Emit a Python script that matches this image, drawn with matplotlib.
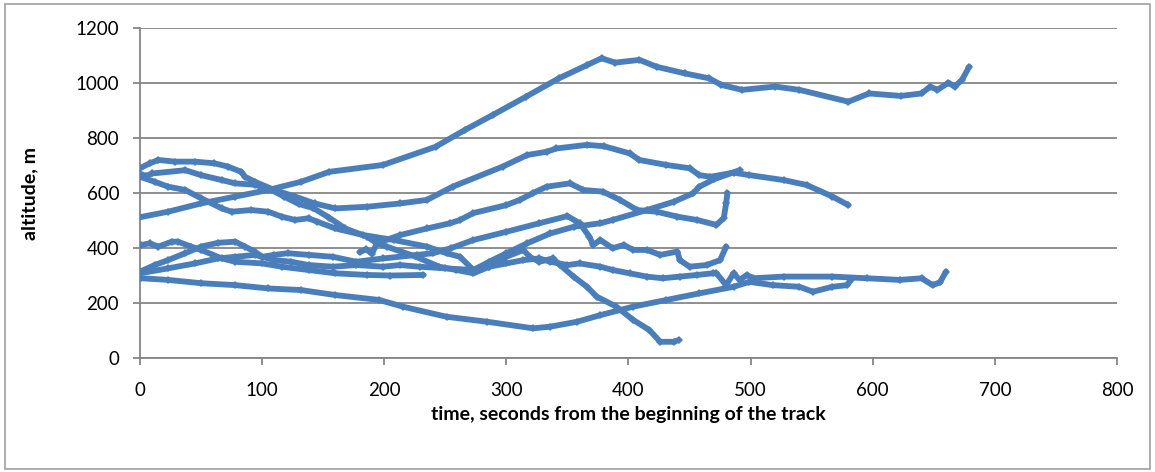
import matplotlib
matplotlib.use("Agg")
import matplotlib.pyplot as plt

# altitude tracks, values (time s, altitude m)
track_a_t = [0, 23, 50, 78, 105, 132, 155, 199, 242, 266, 289, 316, 343, 366, 378, 389, 409, 423,
             446, 466, 476, 493, 520, 540, 580, 597, 623, 640, 647, 653, 662, 667, 673, 679]
track_a_alt = [512, 532, 562, 587, 611, 641, 677, 702, 768, 829, 884, 950, 1017, 1065, 1090, 1074, 1084, 1059,
               1035, 1017, 993, 975, 987, 975, 932, 962, 953, 962, 987, 975, 1001, 987, 1011, 1059]

track_c_t = [0, 8, 15, 29, 45, 61, 72, 83, 86, 94, 110, 127, 143, 160, 186, 213, 235, 256, 297, 317,
             333, 341, 366, 380, 401, 409, 431, 450, 458, 467, 486, 499, 527, 546, 567, 580]
track_c_alt = [690, 708, 720, 714, 714, 708, 696, 677, 659, 641, 611, 587, 562, 544, 550, 562, 575, 623, 696, 738,
               750, 762, 775, 770, 744, 720, 702, 690, 665, 659, 674, 665, 647, 629, 587, 556]

track_i_t = [0, 5, 10, 37, 50, 67, 78, 94, 108, 118, 130, 142, 155, 168, 186, 194, 202, 225, 245, 259,
             273, 286, 300, 314, 319, 327, 338, 344, 355, 366, 374, 390, 404, 417, 426, 437, 441]
track_i_alt = [670, 662, 671, 683, 665, 647, 635, 630, 610, 587, 560, 545, 510, 471, 441, 417, 405, 370, 332, 320,
               308, 332, 368, 393, 368, 350, 362, 338, 296, 259, 223, 187, 138, 102, 59, 59, 65]

track_b_t = [0, 12, 23, 37, 50, 67, 75, 91, 105, 116, 127, 138, 145, 160, 183, 208, 235, 251, 262, 273,
             286, 300, 314, 327, 336, 350, 360, 377, 387, 401, 415, 428, 442, 456, 469, 472, 480, 486,
             491, 497, 502, 527, 567, 595, 622, 640, 649, 655, 660]
track_b_alt = [659, 641, 623, 611, 581, 544, 532, 538, 532, 514, 502, 508, 496, 471, 447, 429, 405, 381, 368, 320,
               332, 344, 356, 362, 350, 338, 344, 332, 320, 308, 296, 290, 296, 302, 308, 308, 265, 308,
               284, 302, 290, 296, 296, 290, 284, 290, 265, 275, 314]

track_h_t = [0, 12, 23, 37, 50, 64, 78, 86, 94, 100, 110, 121, 138, 158, 177, 199, 227, 240, 255, 273,
             300, 327, 350, 360, 368, 371, 377, 387, 396, 404, 415, 426, 440, 442, 450, 464, 475, 480]
track_h_alt = [314, 338, 356, 381, 405, 419, 423, 405, 387, 368, 375, 381, 375, 368, 350, 362, 375, 381, 400, 429,
               459, 490, 516, 490, 441, 411, 429, 399, 411, 393, 393, 375, 387, 356, 332, 338, 356, 405]

track_d_t = [0, 23, 45, 64, 78, 94, 110, 124, 138, 158, 177, 199, 213, 229, 250, 273, 286, 300, 317, 336,
             355, 377, 387, 415, 437, 453, 458, 470, 491]
track_d_alt = [308, 326, 344, 362, 368, 375, 356, 350, 338, 332, 338, 332, 338, 332, 326, 320, 350, 381, 417, 453,
               477, 490, 502, 538, 568, 599, 623, 650, 683]

track_l_t = [1, 8, 15, 26, 31, 42, 50, 67, 78, 100, 116, 138, 160, 186, 205, 232]
track_l_alt = [411, 417, 405, 423, 423, 405, 393, 362, 350, 344, 332, 320, 308, 302, 300, 302]

track_low_t = [1, 23, 50, 78, 105, 132, 160, 196, 215, 251, 284, 322, 336, 358, 377, 404, 431, 458, 486,
               499, 518, 540, 551, 567, 579, 582]
track_low_alt = [290, 284, 272, 265, 253, 247, 229, 211, 187, 150, 132, 108, 114, 132, 156, 187, 211, 235, 259,
                 277, 265, 259, 241, 259, 265, 284]

track_e_t = [180, 185, 190, 194, 213, 235, 254, 262, 273, 300, 311, 322, 333, 352, 363, 379, 393, 407, 423,
             440, 456, 472, 478, 480, 481]
track_e_alt = [385, 395, 380, 417, 447, 471, 490, 502, 527, 556, 575, 600, 623, 635, 611, 605, 575, 538, 532,
               514, 502, 484, 509, 564, 600]

tracks = [
    (track_a_t, track_a_alt),
    (track_c_t, track_c_alt),
    (track_i_t, track_i_alt),
    (track_b_t, track_b_alt),
    (track_h_t, track_h_alt),
    (track_d_t, track_d_alt),
    (track_l_t, track_l_alt),
    (track_low_t, track_low_alt),
    (track_e_t, track_e_alt),
]

x_ticks = [0, 100, 200, 300, 400, 500, 600, 700, 800]
y_ticks = [0, 200, 400, 600, 800, 1000, 1200]

blue = "#4A7EBB"
gray = "#868686"
font = ["Lato", "DejaVu Sans"]

fig = plt.figure(figsize=(11.55, 4.72), dpi=100)
fig.patches.append(plt.Rectangle((0.004, 0.006), 0.992, 0.986, transform=fig.transFigure,
                                 fill=False, edgecolor="#A0A0A0", linewidth=1.2))
ax = fig.add_axes([0.1212, 0.2415, 0.8459, 0.6992])

for t, alt in tracks:
    ax.plot(t, alt, color=blue, linewidth=4.2, solid_joinstyle="round", solid_capstyle="round",
            marker="D", markersize=4, markeredgewidth=0, zorder=3)

ax.set_xlim(0, 800)
ax.set_ylim(0, 1200)
ax.set_xticks(x_ticks)
ax.set_yticks(y_ticks)
ax.set_xticklabels([str(v) for v in x_ticks], fontfamily=font, fontsize=13.5)
ax.set_yticklabels([str(v) for v in y_ticks], fontfamily=font, fontsize=13.5)

ax.grid(axis="y", color=gray, linewidth=1.3)
ax.set_axisbelow(True)
for side in ["top", "right"]:
    ax.spines[side].set_visible(False)
for side in ["left", "bottom"]:
    ax.spines[side].set_color(gray)
    ax.spines[side].set_linewidth(1.3)
ax.tick_params(axis="both", direction="out", length=5, width=1.3, color=gray)
ax.tick_params(axis="y", pad=10)
ax.tick_params(axis="x", pad=12)

ax.set_xlabel("time, seconds from the beginning of the track", fontfamily=font, fontsize=14,
              fontweight="bold")
ax.set_ylabel("altitude, m", fontfamily=font, fontsize=14, fontweight="bold")
ax.xaxis.set_label_coords(0.5, -0.17, transform=ax.transAxes)
ax.yaxis.set_label_coords(-0.113, 0.5, transform=ax.transAxes)
ax.xaxis.label.set_va("center")
ax.yaxis.label.set_va("center")

fig.savefig("out.png", dpi=100)
